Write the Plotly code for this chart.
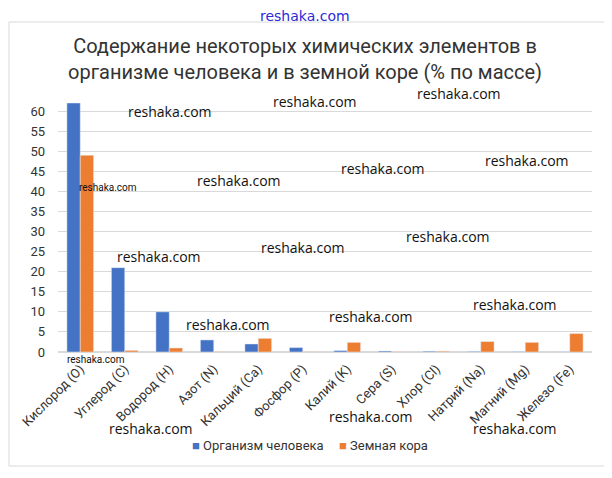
import plotly.graph_objects as go

categories = ["Кислород (O)", "Углерод (C)", "Водород (H)", "Азот (N)", "Кальций (Ca)",
              "Фосфор (P)", "Калий (K)", "Сера (S)", "Хлор (Cl)", "Натрий (Na)",
              "Магний (Mg)", "Железо (Fe)"]
human = [62, 21, 10, 3, 2, 1.1, 0.35, 0.25, 0.2, 0.15, 0.1, 0.05]
crust = [49, 0.4, 1, 0.1, 3.4, 0.1, 2.4, 0.1, 0.2, 2.6, 2.4, 4.6]
series_names = ["Организм человека", "Земная кора"]
series_colors = ["#4472C4", "#ED7D31"]
title_text = "Содержание некоторых химических элементов в<br>организме человека и в земной коре (% по массе)"
y_ticks = [0, 5, 10, 15, 20, 25, 30, 35, 40, 45, 50, 55, 60]

# the page body has an 8px margin; layout numbers below are in window pixels
OFF = 8
W, H = 612 - OFF, 478 - OFF
PX0, PX1, PY0, PY1 = 58, 592, 101, 352   # plot area in window pixels
L, R, T, B = PX0 - OFF, W - (PX1 - OFF), PY0 - OFF, H - (PY1 - OFF)
PW, PH = PX1 - PX0, PY1 - PY0


def px(x, y):
    return (x - PX0) / PW, (PY1 - y) / PH


fig = go.Figure()
for name, vals, col in zip(series_names, [human, crust], series_colors):
    fig.add_bar(x=categories, y=vals, name=name, marker_color=col, showlegend=False)


def ann(x, y, text, family, size, color):
    ax, ay = px(x, y)
    return dict(x=ax, y=ay, xref="paper", yref="paper", text=text, showarrow=False,
                xanchor="center", yanchor="middle",
                font=dict(family=family, size=size, color=color))


annotations = []
wm = [(170, 112), (315, 101), (459, 93), (527, 160), (383, 168), (239, 180),
      (448, 236), (303, 248), (159, 256), (515, 304), (228, 324), (371, 316),
      (151, 428), (371, 416), (515, 428)]
for (x, y) in wm:
    annotations.append(ann(x, y, "reshaka.com", "Open Sans", 14, "#111111"))
for (x, y) in [(108, 187), (96, 359)]:
    annotations.append(ann(x, y, "reshaka.com", "Roboto", 10, "#111111"))
annotations.append(ann(305, 16, "reshaka.com", "DejaVu Sans", 14, "#2b2bd6"))
annotations.append(ann(305, 59, title_text, "Roboto", 20, "#333333"))

# legend
leg_items = [(258, series_names[0], series_colors[0]), (383, series_names[1], series_colors[1])]
for (x, name, col) in leg_items:
    annotations.append(ann(x, 445, f"<span style='color:{col}'>■</span> {name}", "Roboto", 13, "#333333"))

x0, y0 = px(9, 22)
x1, y1 = px(606, 466)

fig.update_layout(
    width=W, height=H,
    margin=dict(l=L, r=R, t=T, b=B, autoexpand=False),
    paper_bgcolor="white", plot_bgcolor="white",
    barmode="group", bargap=0.4, bargroupgap=0,
    font=dict(family="Roboto", size=12, color="#333333"),
    showlegend=False,
    annotations=annotations,
    shapes=[dict(type="rect", xref="paper", yref="paper", x0=x0, y0=y0, x1=x1, y1=y1,
                 line=dict(color="#d9d9d9", width=1), layer="below")],
    xaxis=dict(tickangle=-45, tickfont=dict(size=13, color="#333333"), showline=False,
               showgrid=False, ticks="", automargin=False, ticklabelstandoff=6),
    yaxis=dict(range=[0, 62.5], tickvals=y_ticks, showgrid=True, gridcolor="#d9d9d9",
               zeroline=True, zerolinecolor="#d9d9d9", tickfont=dict(size=13, color="#333333"),
               ticks="", showline=False, automargin=False, ticklabelstandoff=12),
)

fig.write_html("out.html")
